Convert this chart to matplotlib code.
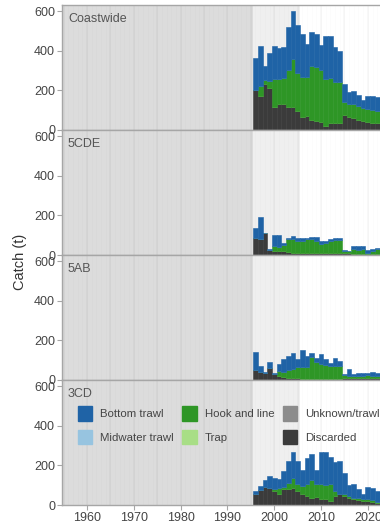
import matplotlib
matplotlib.use("Agg")
import matplotlib.pyplot as plt
from matplotlib.patches import Patch
import numpy as np

plt.rcParams['font.family'] = ['Liberation Sans', 'DejaVu Sans']

years = list(range(1996, 2023))
regions = ["Coastwide", "5CDE", "5AB", "3CD"]
gears = ["Bottom trawl", "Midwater trawl", "Hook and line", "Trap", "Unknown/trawl", "Discarded"]
gear_colors = ["#1F63A6", "#97C4E0", "#2E9626", "#A8DE86", "#8C8C8C", "#3B3B3B"]

# catch (t) by gear, per region
coast_bottom = [162, 204, 72, 140, 165, 157, 157, 219, 240, 242, 217, 166, 169, 169, 127, 214, 211, 177, 152, 92, 64, 69, 55, 42, 65, 70, 70]
coast_hook = [0, 46, 21, 37, 141, 127, 130, 186, 242, 192, 202, 197, 275, 274, 262, 237, 228, 211, 208, 64, 65, 71, 72, 63, 63, 63, 58]
coast_disc = [203, 174, 233, 213, 118, 132, 132, 115, 118, 95, 68, 73, 51, 44, 39, 22, 34, 34, 37, 76, 65, 59, 50, 47, 42, 37, 37]

cde_bottom = [50, 114, 0, 5, 55, 61, 12, 8, 18, 13, 13, 8, 10, 20, 12, 10, 10, 7, 7, 5, 2, 17, 20, 20, 13, 8, 7]
cde_hook = [0, 0, 0, 0, 26, 18, 30, 65, 68, 62, 62, 72, 72, 62, 50, 52, 62, 70, 70, 12, 10, 22, 19, 22, 7, 17, 23]
cde_disc = [85, 80, 113, 25, 20, 22, 20, 15, 12, 10, 10, 8, 8, 8, 8, 8, 8, 8, 8, 8, 8, 6, 6, 6, 5, 5, 5]

ab_bottom = [95, 30, 7, 28, 7, 33, 67, 72, 81, 40, 84, 54, 21, 22, 51, 31, 14, 42, 25, 4, 32, 9, 17, 17, 9, 21, 17]
ab_hook = [0, 0, 0, 0, 0, 26, 26, 38, 44, 60, 62, 63, 113, 86, 74, 69, 66, 66, 66, 17, 14, 12, 12, 12, 17, 12, 12]
ab_disc = [49, 41, 34, 63, 30, 20, 15, 12, 10, 8, 6, 5, 5, 5, 5, 5, 5, 5, 5, 8, 8, 8, 8, 8, 8, 8, 8]

cd_bottom = [17, 22, 34, 62, 60, 45, 81, 110, 135, 112, 80, 132, 132, 68, 165, 169, 138, 144, 166, 110, 55, 68, 45, 25, 62, 61, 54]
cd_hook = [0, 0, 0, 0, 8, 31, 12, 34, 50, 37, 42, 59, 88, 67, 76, 72, 85, 25, 3, 8, 9, 8, 10, 9, 9, 7, 5]
cd_disc = [54, 74, 91, 85, 71, 54, 79, 79, 85, 71, 54, 46, 37, 41, 29, 29, 20, 46, 54, 46, 37, 29, 24, 20, 20, 17, 12]

zeros = [0] * len(years)
region_data = {
    "Coastwide": {"Bottom trawl": coast_bottom, "Midwater trawl": zeros, "Hook and line": coast_hook,
                  "Trap": zeros, "Unknown/trawl": zeros, "Discarded": coast_disc},
    "5CDE": {"Bottom trawl": cde_bottom, "Midwater trawl": zeros, "Hook and line": cde_hook,
             "Trap": zeros, "Unknown/trawl": zeros, "Discarded": cde_disc},
    "5AB": {"Bottom trawl": ab_bottom, "Midwater trawl": zeros, "Hook and line": ab_hook,
            "Trap": zeros, "Unknown/trawl": zeros, "Discarded": ab_disc},
    "3CD": {"Bottom trawl": cd_bottom, "Midwater trawl": zeros, "Hook and line": cd_hook,
            "Trap": zeros, "Unknown/trawl": zeros, "Discarded": cd_disc},
}

x_ticks = [1960, 1970, 1980, 1990, 2000, 2010, 2020]
y_ticks = [0, 200, 400, 600]

W, H = 380, 527
fig = plt.figure(figsize=(W / 100, H / 100), dpi=100)

left_px, top_px, panel_h = 62, 5, 125
spine_col = "#A6A6A6"
text_col = "#444444"

axes = []
for i, reg in enumerate(regions):
    y0 = top_px + i * panel_h
    ax = fig.add_axes([left_px / W, 1 - (y0 + panel_h) / H, 1 - left_px / W, panel_h / H])
    axes.append(ax)
    ax.set_xlim(1954.66, 2022.6)
    ax.set_ylim(0, 632)
    ax.axvspan(1900, 1995.5, color="#DCDCDC", lw=0, zorder=0)
    ax.axvspan(1995.5, 2005.5, color="#EFEFEF", lw=0, zorder=0)
    for yr in range(1955, 2025):
        ax.axvline(yr, color="k", alpha=0.012, lw=0.6, zorder=0.4)
    for yr in range(1955, 2025, 5):
        ax.axvline(yr, color="k", alpha=0.03, lw=1.2, zorder=0.5)

    bottom = np.zeros(len(years))
    for g in ["Discarded", "Unknown/trawl", "Trap", "Hook and line", "Midwater trawl", "Bottom trawl"]:
        vals = np.array(region_data[reg][g], dtype=float)
        c = gear_colors[gears.index(g)]
        ax.bar(years, vals, width=1.0, bottom=bottom, color=c, edgecolor=c, lw=0.4, zorder=2)
        bottom += vals

    for s in ["left", "top", "bottom"]:
        ax.spines[s].set_color(spine_col)
        ax.spines[s].set_linewidth(1.0)
    ax.spines["right"].set_visible(False)
    ax.set_yticks(y_ticks)
    ax.set_yticklabels([str(v) for v in y_ticks])
    ax.set_xticks(x_ticks)
    ax.tick_params(axis="both", colors=spine_col, labelcolor=text_col, labelsize=9,
                   length=3.5, width=0.8, pad=1.5)
    if i < len(regions) - 1:
        ax.tick_params(axis="x", labelbottom=False, length=0)
    ax.text(6 / (W - left_px), 1 - 14 / panel_h, reg, transform=ax.transAxes,
            ha="left", va="center", fontsize=9, color="#555555", zorder=5)

fig.text(20 / W, 1 - 262 / H, "Catch (t)", rotation=90, ha="center", va="center",
         fontsize=10.5, color="#333333")

handles = [Patch(facecolor=c, edgecolor=c, label=g) for g, c in zip(gears, gear_colors)]
leg = fig.legend(handles=handles, ncol=3, loc="upper left",
                 bbox_to_anchor=(78 / W, 1 - 406 / H), bbox_transform=fig.transFigure,
                 frameon=False, fontsize=8.2, handlelength=1.25, handleheight=1.6,
                 handletextpad=0.7, columnspacing=0.75, labelspacing=0.8,
                 borderpad=0, borderaxespad=0)
for t in leg.get_texts():
    t.set_color(text_col)

fig.savefig("out.png", dpi=100)
